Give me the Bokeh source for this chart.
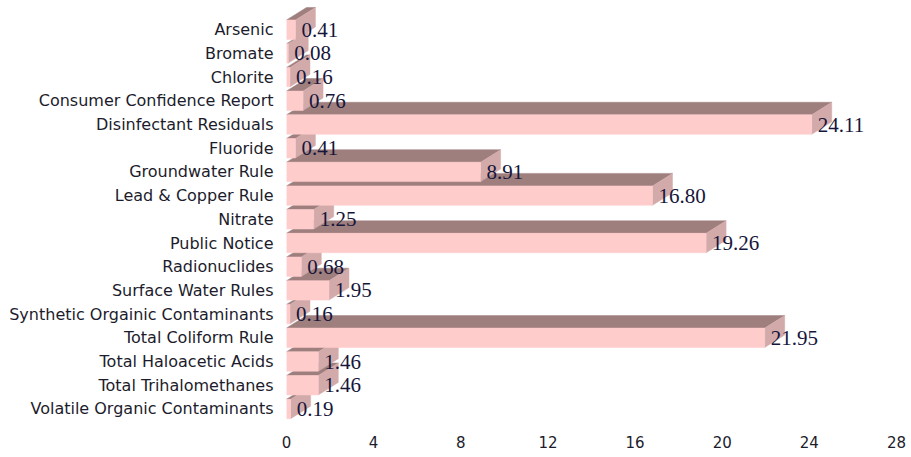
from bokeh.plotting import figure
from bokeh.models import Range1d, FixedTicker, ColumnDataSource
from bokeh.core.properties import value
from bokeh.embed import file_html
from bokeh.resources import INLINE

categories = [
    "Arsenic", "Bromate", "Chlorite", "Consumer Confidence Report",
    "Disinfectant Residuals", "Fluoride", "Groundwater Rule", "Lead & Copper Rule",
    "Nitrate", "Public Notice", "Radionuclides", "Surface Water Rules",
    "Synthetic Orgainic Contaminants", "Total Coliform Rule", "Total Haloacetic Acids",
    "Total Trihalomethanes", "Volatile Organic Contaminants",
]
values = [0.41, 0.08, 0.16, 0.76, 24.11, 0.41, 8.91, 16.80, 1.25, 19.26,
          0.68, 1.95, 0.16, 21.95, 1.46, 1.46, 0.19]
x_ticks = [0, 4, 8, 12, 16, 20, 24, 28]

FRONT = "#FFCCCC"
TOP = "#9F7E7E"
SIDE = "#D3AAAA"

n = len(categories)
p = figure(width=911, height=457, output_backend="svg", toolbar_location=None,
           x_range=Range1d(0, 28), y_range=Range1d(16.70, -1.232),
           min_border_left=286, min_border_right=15, min_border_top=0,
           min_border_bottom=32)
p.outline_line_color = None
p.xgrid.visible = False
p.ygrid.visible = False
p.background_fill_color = "white"

# depth offsets (data units)
dx = 20 / 21.8
dy = 12.5 / 23.7
h = 0.82

# draw from the bottom row upward so upper rows sit in front
for i in reversed(range(n)):
    v = values[i]
    y = i
    yt = y - h / 2
    yb = y + h / 2
    xs = [
        [0, v, v + dx, dx],
        [v, v + dx, v + dx, v],
        [0, v, v, 0],
    ]
    ys = [
        [yt, yt, yt - dy, yt - dy],
        [yt, yt - dy, yb - dy, yb],
        [yt, yt, yb, yb],
    ]
    src = ColumnDataSource(dict(xs=xs, ys=ys, c=[TOP, SIDE, FRONT]))
    p.patches("xs", "ys", source=src, fill_color="c", line_color="c", line_width=0.5)

labels = ColumnDataSource(dict(x=values, y=list(range(n)),
                               t=[f"{v:.2f}" for v in values]))
p.text(x="x", y="y", text="t", source=labels, x_offset=6, y_offset=0,
       text_align="left", text_baseline="middle",
       text_font=value("Liberation Serif"), text_font_size="21px",
       text_color="#16163a")

p.yaxis.ticker = FixedTicker(ticks=list(range(n)))
p.yaxis.major_label_overrides = {i: c for i, c in enumerate(categories)}
p.yaxis.major_label_text_font = "DejaVu Sans"
p.yaxis.major_label_text_font_size = "16px"
p.yaxis.major_label_text_color = "#1c1c2c"
p.yaxis.major_label_standoff = 7
p.yaxis.axis_line_color = None
p.yaxis.major_tick_line_color = None
p.yaxis.minor_tick_line_color = None

p.xaxis.ticker = FixedTicker(ticks=x_ticks)
p.xaxis.major_label_text_font = "DejaVu Sans"
p.xaxis.major_label_text_font_size = "15px"
p.xaxis.major_label_text_color = "#1c1c2c"
p.xaxis.major_label_standoff = 4
p.xaxis.axis_line_color = None
p.xaxis.major_tick_line_color = None
p.xaxis.minor_tick_line_color = None

open("out.html", "w").write(file_html(p, INLINE))
